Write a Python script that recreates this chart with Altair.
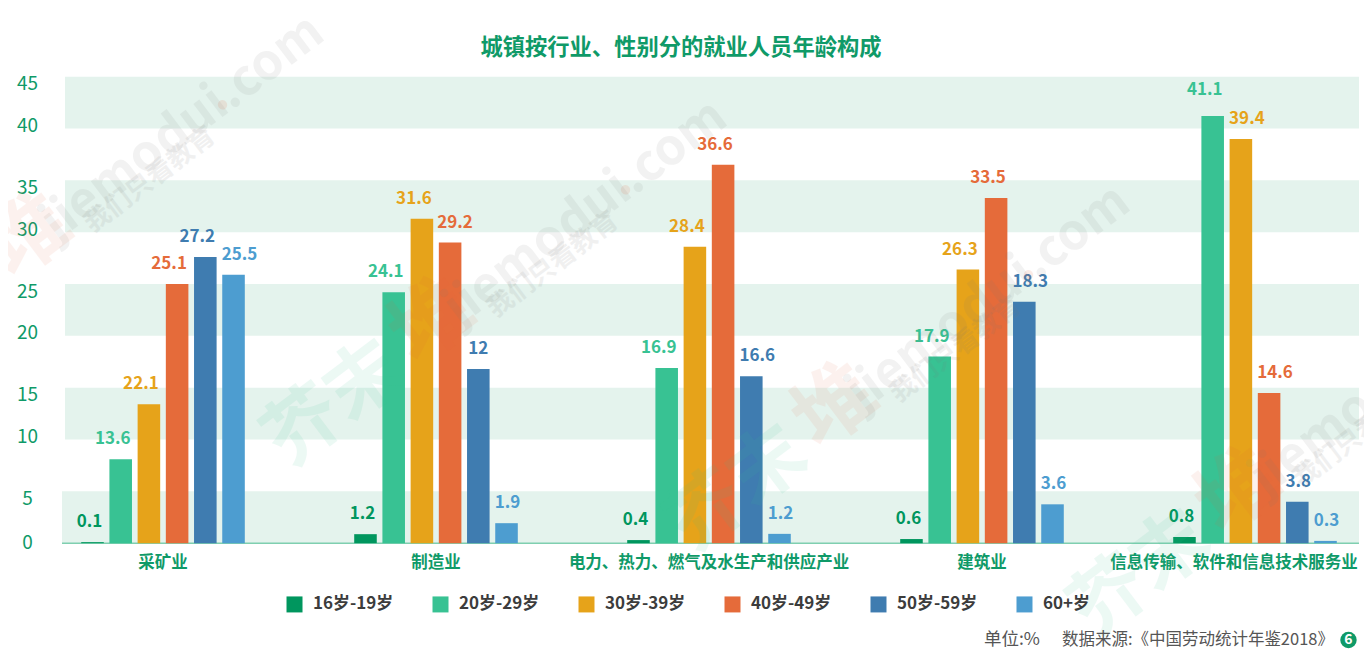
import altair as alt
import pandas as pd

FONT = "Noto Sans CJK SC"

# ---- data ----
categories = ["采矿业", "制造业", "电力、热力、燃气及水生产和供应产业", "建筑业", "信息传输、软件和信息技术服务业"]
series = ["16岁-19岁", "20岁-29岁", "30岁-39岁", "40岁-49岁", "50岁-59岁", "60+岁"]
# printed labels
labels_mining = ["0.1", "13.6", "22.1", "25.1", "27.2", "25.5"]
labels_manuf = ["1.2", "24.1", "31.6", "29.2", "12", "1.9"]
labels_power = ["0.4", "16.9", "28.4", "36.6", "16.6", "1.2"]
labels_constr = ["0.6", "17.9", "26.3", "33.5", "18.3", "3.6"]
labels_it = ["0.8", "41.1", "39.4", "14.6", "3.8", "0.3"]
# bar heights (they differ from a few printed labels)
bars_mining = [0.1, 8.1, 13.4, 25.0, 27.6, 25.9]
bars_manuf = [0.87, 24.2, 31.3, 29.0, 16.8, 1.93]
bars_power = [0.3, 16.9, 28.6, 36.5, 16.1, 0.9]
bars_constr = [0.4, 18.0, 26.4, 33.3, 23.3, 3.75]
bars_it = [0.6, 41.2, 39.0, 14.5, 4.0, 0.22]
y_ticks = [0, 5, 10, 15, 20, 25, 30, 35, 40, 45]
band_lo = [0, 10, 20, 30, 40]
band_hi = [5, 15, 25, 35, 45]

all_labels = [labels_mining, labels_manuf, labels_power, labels_constr, labels_it]
all_bars = [bars_mining, bars_manuf, bars_power, bars_constr, bars_it]

# ---- layout (label nudges in px, apart from the data) ----
nudge_x = [
    [-3, -8, -8, -8, -8, 6],
    [-3, -8, -8, 5, 0, 1],
    [-3, -8, -8, -8, 6, 1],
    [-3, -8, -8, -8, 6, 1],
    [-3, -8, 6, 6, 1, 1],
]
PLOT_W, PLOT_H = 1297, 466.5
LEFT, TOP = 62, 76.7
GREEN = "#0f9a68"
colors = ["#00965e", "#38c293", "#e6a31a", "#e56b3a", "#3f7cb0", "#4d9dd0"]

rows = []
for i, c in enumerate(categories):
    for j, s in enumerate(series):
        rows.append({"cat": c, "ser": s, "val": all_bars[i][j], "lab": all_labels[i][j],
                     "dx": nudge_x[i][j], "dy": -26 if all_labels[i][j] == "41.1" else -20})
df = pd.DataFrame(rows)
bands = pd.DataFrame({"lo": band_lo, "hi": band_hi})

x_scale = alt.Scale(domain=categories, range=[-35.5, 1329.5], paddingInner=0, paddingOuter=0)
off_scale = alt.Scale(domain=series, range=[54.7, 218.3], paddingInner=0.2, paddingOuter=0)
y_scale = alt.Scale(domain=[0, 45], nice=False)
color_scale = alt.Scale(domain=series, range=colors)

band_top = alt.Chart(bands[bands.lo > 0]).mark_rect(color="#e4f3ed").encode(
    x=alt.value(3), x2=alt.value(PLOT_W),
    y=alt.Y("lo:Q", scale=y_scale, title=None,
            axis=alt.Axis(values=y_ticks, ticks=False, domain=False, grid=False, labelColor=GREEN,
                          labelFontSize=19, labelFont=FONT, labelAlign="center", labelPadding=35,
                          labelOffset={"condition": [
                              {"test": "datum.value == 0", "value": -1},
                              {"test": "datum.value % 10 == 0", "value": -3}], "value": 7})),
    y2="hi:Q",
)
band_bot = alt.Chart(bands[bands.lo == 0]).mark_rect(color="#e4f3ed").encode(
    x=alt.value(0), x2=alt.value(PLOT_W), y=alt.Y("lo:Q", scale=y_scale), y2="hi:Q")
baseline = alt.Chart(pd.DataFrame({"z": [0]})).mark_rule(color="#7fcfb0", strokeWidth=1.5).encode(
    x=alt.value(0), x2=alt.value(PLOT_W), y=alt.Y("z:Q", scale=y_scale))

bars = alt.Chart(df).mark_bar(cornerRadius=0).encode(
    x=alt.X("cat:N", scale=x_scale, sort=categories, title=None,
            axis=alt.Axis(labelAngle=0, ticks=False, domain=False, labelColor=GREEN, labelFontSize=16.5,
                          labelFont=FONT, labelFontWeight="bold", labelPadding=11, labelLimit=0,
                          labelOverlap=False,
                          labelOffset={"condition": {"test": "datum.index == 1", "value": -21}, "value": 0})),
    xOffset=alt.XOffset("ser:N", scale=off_scale, sort=series),
    y=alt.Y("val:Q", scale=y_scale),
    color=alt.Color("ser:N", scale=color_scale, sort=series, title=None,
                    legend=alt.Legend(orient="none", legendX=224, legendY=519, direction="horizontal",
                                      columns=6, symbolType="square", symbolSize=256, symbolStrokeWidth=0,
                                      labelFont=FONT, labelFontSize=17, labelFontWeight="bold",
                                      labelColor="#3c3c3c", labelOffset=10, columnPadding=38)),
)

label_layers = []
for (dx, dy), sub in df.groupby(["dx", "dy"]):
    label_layers.append(
        alt.Chart(sub).mark_text(font=FONT, fontSize=17, fontWeight="bold", dx=int(dx), dy=int(dy)).encode(
            x=alt.X("cat:N", scale=x_scale, sort=categories),
            xOffset=alt.XOffset("ser:N", scale=off_scale, sort=series),
            y=alt.Y("val:Q", scale=y_scale),
            text=alt.Text("lab:N"),
            color=alt.Color("ser:N", scale=color_scale, sort=series, legend=None),
        )
    )


def deco(text, x, y, **kw):
    return alt.Chart(pd.DataFrame({"t": [text]})).mark_text(font=FONT, **kw).encode(
        x=alt.value(x - LEFT), y=alt.value(y - TOP), text="t:N")


marks = []
for k in range(4):
    ox, oy = 403 * k, 85 * k
    marks.append(deco("jiemodui.com", 183 + ox, 128 + oy, fontSize=50, fontWeight="bold", angle=323,
                      color="#777777", opacity=0.09))
    marks.append(deco(".", 225 + ox, 108 + oy, fontSize=50, fontWeight="bold", angle=323, baseline="alphabetic",
                      color="#e5603a", opacity=0.12))
    marks.append(deco("我们只看教育", 150 + ox, 180 + oy, fontSize=26, fontWeight="bold", angle=323,
                      color="#777777", opacity=0.1))
    marks.append(deco("堆", 30 + ox, 238 + oy, fontSize=80, fontWeight="bold", angle=323,
                      color="#e5603a", opacity=0.08))
    if k > 0:
        marks.append(deco("芥末", 335 + ox - 403, 405 + oy - 85, fontSize=76, fontWeight="bold", angle=323,
                          color="#38c293", opacity=0.09))

title = deco("城镇按行业、性别分的就业人员年龄构成", 681, 48, fontSize=22.3, fontWeight="bold", color=GREEN)
footer_a = deco("单位:%", 984, 640, fontSize=17.5, align="left", color="#555555")
footer_b = deco("数据来源:《中国劳动统计年鉴2018》", 1062, 640, fontSize=16.5, align="left", color="#555555")
badge = alt.Chart(pd.DataFrame({"t": ["6"]})).mark_point(filled=True, shape="circle", size=270, color=GREEN, opacity=1).encode(
    x=alt.value(1348.5 - LEFT), y=alt.value(640 - TOP))
badge_t = deco("6", 1348.5, 640, fontSize=14, color="white", fontWeight="bold")

chart = alt.layer(band_top, band_bot, baseline, bars, *label_layers, *marks, title, footer_a, footer_b, badge, badge_t).properties(
    width=PLOT_W, height=PLOT_H,
    padding={"left": LEFT - 8, "top": TOP - 8, "right": 5, "bottom": 113},
    autosize=alt.AutoSizeParams(type="none"),
).configure_view(stroke=None)

chart.save("out.html", embed_options={"renderer": "svg", "actions": False})
